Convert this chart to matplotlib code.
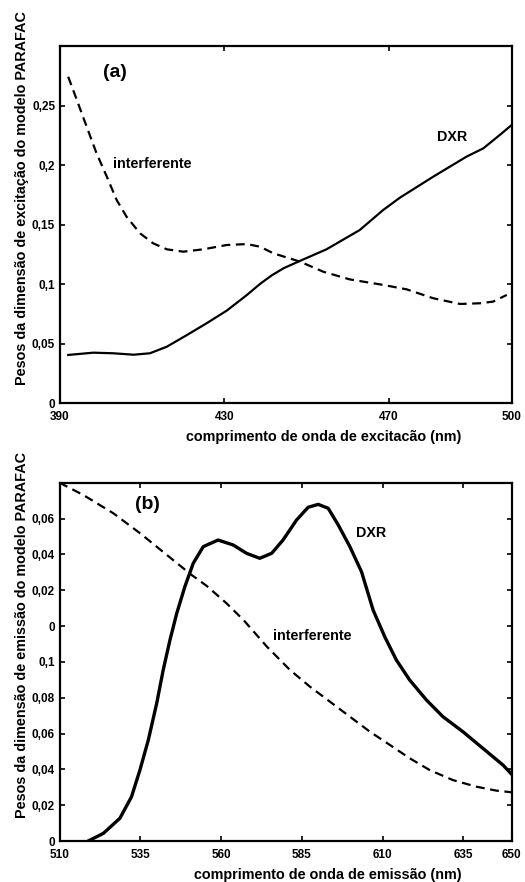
import numpy as np
import matplotlib
matplotlib.use("Agg")
import matplotlib.pyplot as plt

plt.rcParams["font.family"] = ["Liberation Sans", "DejaVu Sans"]
plt.rcParams["font.weight"] = "bold"

# painel (a): excitação
exc_nm_dxr = [392.0, 398.1, 403.0, 407.9, 411.9, 416.0, 420.9, 425.7, 430.6, 435.5, 438.7, 441.6,
              444.5, 448.4, 454.9, 463.0, 468.7, 472.8, 480.9, 489.0, 493.1, 497.1, 500.0]
exc_dxr = [0.0406, 0.0425, 0.042, 0.0408, 0.042, 0.0475, 0.0573, 0.0672, 0.0778, 0.0909, 0.1002, 0.1075,
           0.1135, 0.1195, 0.1293, 0.1455, 0.1623, 0.1727, 0.1903, 0.2071, 0.2141, 0.2253, 0.2337]
exc_nm_int = [392.0, 394.1, 396.5, 398.9, 401.4, 403.8, 406.2, 409.5, 412.7, 416.0, 420.0, 424.9,
              430.6, 435.5, 438.7, 441.9, 448.4, 454.1, 460.6, 468.7, 474.4, 480.9, 487.4, 492.3,
              495.5, 498.8]
exc_int = [0.2742, 0.2547, 0.2322, 0.2099, 0.1903, 0.1707, 0.1567, 0.1427, 0.1343, 0.1293, 0.1273, 0.1293,
           0.1329, 0.1337, 0.1315, 0.126, 0.119, 0.1105, 0.104, 0.0994, 0.0957, 0.0882, 0.0834, 0.084,
           0.0854, 0.091]

# painel (b): emissão
em_nm_dxr = [518.9, 523.6, 528.7, 532.3, 534.9, 537.5, 540.1, 542.1, 544.2, 546.3, 548.8, 551.4,
             554.5, 559.1, 563.8, 567.9, 572.0, 575.7, 579.2, 583.4, 587.0, 590.1, 593.2, 596.3,
             599.9, 603.5, 607.1, 610.7, 614.3, 618.4, 623.6, 628.7, 634.9, 641.1, 647.3, 650.0]
em_dxr = [0.0, 0.0043, 0.0127, 0.0247, 0.0396, 0.0564, 0.0769, 0.0954, 0.1122, 0.1271, 0.1419, 0.155,
          0.1643, 0.168, 0.1652, 0.1606, 0.1578, 0.1606, 0.168, 0.1792, 0.1863, 0.1879, 0.1857, 0.1764,
          0.1643, 0.1503, 0.1289, 0.114, 0.101, 0.0899, 0.0787, 0.0694, 0.061, 0.0517, 0.0424, 0.0372]
em_nm_int = [510.0, 517.4, 526.7, 535.0, 545.2, 550.9, 555.5, 561.7, 567.0, 574.2, 581.4, 587.5,
             593.7, 599.9, 606.1, 612.3, 618.4, 624.6, 631.8, 639.1, 645.3, 650.0]
em_int = [0.2, 0.1931, 0.1829, 0.1717, 0.1568, 0.1485, 0.1425, 0.1327, 0.1233, 0.1085, 0.0954, 0.0862,
          0.0778, 0.0694, 0.061, 0.0536, 0.0462, 0.0396, 0.034, 0.0303, 0.0281, 0.0272]

a_xticks = [390, 430, 470, 500]
a_yticks = [0, 0.05, 0.1, 0.15, 0.2, 0.25]
a_ylabels = ["0", "0,05", "0,1", "0,15", "0,2", "0,25"]
b_xticks = [510, 535, 560, 585, 610, 635, 650]
b_yticks = [0, 0.02, 0.04, 0.06, 0.08, 0.1, 0.12, 0.14, 0.16, 0.18]
b_ylabels = ["0", "0,02", "0,04", "0,06", "0,08", "0,1", "0", "0,02", "0,04", "0,06"]

W, H = 525, 882
fig = plt.figure(figsize=(W / 100, H / 100), dpi=100)
ax1 = fig.add_axes([60 / W, 1 - 403.3 / H, 451.7 / W, 357.3 / H])
ax2 = fig.add_axes([59.5 / W, 1 - 841 / H, 452.2 / W, 358.3 / H])


def style(ax):
    for s in ax.spines.values():
        s.set_linewidth(1.6)
    ax.tick_params(direction="in", length=3.5, width=1.2, top=True, right=True,
                   labelsize=8.5)
    ax.tick_params(axis="x", pad=5.5)
    ax.tick_params(axis="y", pad=3.5)
    for lab in ax.get_xticklabels() + ax.get_yticklabels():
        lab.set_fontweight("bold")


ax1.plot(exc_nm_dxr, exc_dxr, color="black", lw=1.6)
ax1.plot(exc_nm_int, exc_int, color="black", lw=1.6, dashes=(4, 2.5))
ax1.set_xlim(390, 500)
ax1.set_ylim(0, 0.3)
ax1.set_xticks(a_xticks)
ax1.set_yticks(a_yticks)
ax1.set_yticklabels(a_ylabels)
style(ax1)
ax1.text(400.5, 0.278, "(a)", fontsize=14, fontweight="bold", va="center")
ax1.text(402.9, 0.201, "interferente", fontsize=10.3, fontweight="bold", va="center")
ax1.text(481.8, 0.2236, "DXR", fontsize=10.3, fontweight="bold", va="center")

ax2.plot(em_nm_dxr, em_dxr, color="black", lw=2.4)
ax2.plot(em_nm_int, em_int, color="black", lw=1.6, dashes=(4, 2.5))
ax2.set_xlim(510, 650)
ax2.set_ylim(0, 0.2)
ax2.set_xticks(b_xticks)
ax2.set_yticks(b_yticks)
ax2.set_yticklabels(b_ylabels)
style(ax2)
ax2.text(533.4, 0.1876, "(b)", fontsize=14, fontweight="bold", va="center")
ax2.text(576.1, 0.1146, "interferente", fontsize=10.3, fontweight="bold", va="center")
ax2.text(601.8, 0.172, "DXR", fontsize=10.3, fontweight="bold", va="center")

# rótulos dos eixos, posicionados como na figura original
lab = dict(fontsize=10.4, fontweight="bold", ha="center", va="center")
fig.text(323.5 / W, 1 - 437 / H, "comprimento de onda de excitacão (nm)", **lab)
fig.text(22 / W, 1 - 198 / H, "Pesos da dimensão de excitação do modelo PARAFAC", rotation=90, **lab)
fig.text(328 / W, 1 - 875 / H, "comprimento de onda de emissão (nm)", **lab)
fig.text(22 / W, 1 - 635 / H, "Pesos da dimensão de emissão do modelo PARAFAC", rotation=90, **lab)

fig.savefig("out.png", dpi=100)
